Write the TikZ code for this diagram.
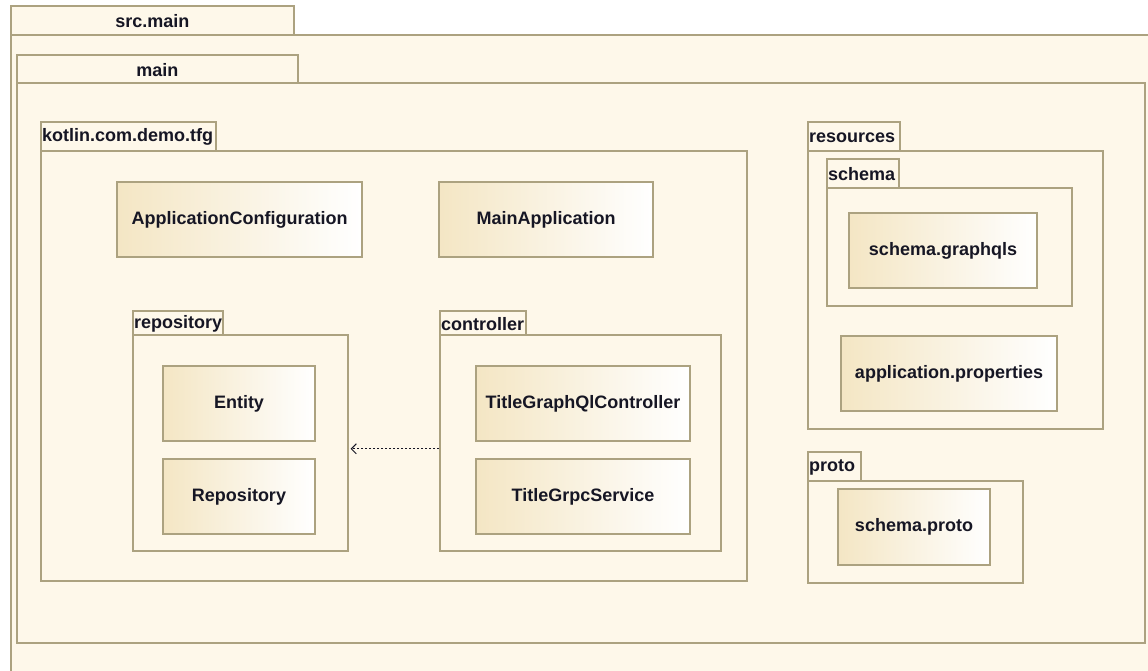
\documentclass[tikz,border=0pt]{standalone}
\usepackage{fontspec}
\setmainfont{Liberation Sans}
\usetikzlibrary{arrows.meta,calc}

\definecolor{pkgfill}{RGB}{254,248,234}
\definecolor{pkgline}{RGB}{172,162,128}
\definecolor{clsleft}{RGB}{244,230,196}
\definecolor{txt}{RGB}{22,22,36}

\tikzset{
  every node/.style={font=\fontsize{18}{21}\selectfont\bfseries, text=txt},
  frame/.style={draw=pkgline, line width=1.6pt, fill=pkgfill, inner sep=0pt,
    anchor=north west},
  tablabel/.style={inner sep=0pt, anchor=west},
  classbox/.style={draw=pkgline, line width=1.6pt, left color=clsleft,
    right color=white, shading=axis, inner sep=0pt, anchor=center},
  dep/.style={draw=txt, line width=1.2pt, dash pattern=on 2.5pt off 1.5pt,
    -{Straight Barb[length=5pt,width=10pt,line width=1pt]}},
}

% package: #1 name, #2 label, tab corners (#3,#4)-(#5,#6), body lower right (#7,#8)
\newcommand{\pkgframe}[8]{%
  \node[frame, minimum width={(#5-#3)*1pt}, minimum height={(#6-#4)*1pt}]
    (#1-tab) at (#3,#4) {};
  \node[frame, minimum width={(#7-#3)*1pt}, minimum height={(#8-#6)*1pt}]
    (#1) at (#3,#6) {};
  \node[tablabel] (#1-label) at ($(#1-tab.west)+(2,1)$) {#2};
}
% centred title variant
\newcommand{\pkgframec}[8]{%
  \node[frame, minimum width={(#5-#3)*1pt}, minimum height={(#6-#4)*1pt}]
    (#1-tab) at (#3,#4) {};
  \node[frame, minimum width={(#7-#3)*1pt}, minimum height={(#8-#6)*1pt}]
    (#1) at (#3,#6) {};
  \node[inner sep=0pt] (#1-label) at ($(#1-tab.center)+(0,1)$) {#2};
}
% class box: #1 name, #2 label, corners (#3,#4)-(#5,#6)
\newcommand{\clsbox}[6]{%
  \node[classbox, minimum width={(#5-#3)*1pt}, minimum height={(#6-#4)*1pt}]
    (#1) at ({(#3+#5)/2},{(#4+#6)/2}) {#2};
}

\begin{document}
\begin{tikzpicture}[x=1pt,y=-1pt]
  \useasboundingbox (0,0) rectangle (1148,670);
  \clip (0,0) rectangle (1148,670);
  \fill[white] (0,0) rectangle (1148,670);

  % outer packages
  \pkgframec{srcmain}{src.main}{10}{5}{293}{34}{1170}{700}
  \pkgframec{main}{main}{16}{54}{297}{82}{1144}{642}

  % kotlin sources
  \pkgframe{kotlin}{kotlin.com.demo.tfg}{40}{121}{215}{150}{746}{580}
  \clsbox{appconf}{ApplicationConfiguration}{117}{182}{362}{257}
  \clsbox{mainapp}{MainApplication}{439}{182}{653}{257}

  \pkgframe{repo}{repository}{132}{310}{222}{334}{347}{550}
  \clsbox{entity}{Entity}{163}{366}{315}{441}
  \clsbox{repository}{Repository}{163}{459}{315}{534}

  \pkgframe{ctrl}{controller}{439}{310}{525}{334}{720}{550}
  \clsbox{gqlctrl}{TitleGraphQlController}{476}{366}{690}{441}
  \clsbox{grpcsvc}{TitleGrpcService}{476}{459}{690}{534}

  % resources
  \pkgframe{res}{resources}{807}{121}{899}{150}{1102}{428}
  \pkgframe{schema}{schema}{826}{158}{898}{187}{1071}{305}
  \clsbox{graphqls}{schema.graphqls}{849}{213}{1037}{288}
  \clsbox{appprops}{application.properties}{841}{336}{1057}{411}

  % proto
  \pkgframe{proto}{proto}{807}{451}{860}{480}{1022}{582}
  \clsbox{protofile}{schema.proto}{838}{489}{990}{565}

  % dependency controller -> repository
  \draw[dep] ($(ctrl.west)+(0,6)$) -- ($(repo.east)+(2,6)$);
\end{tikzpicture}
\end{document}
